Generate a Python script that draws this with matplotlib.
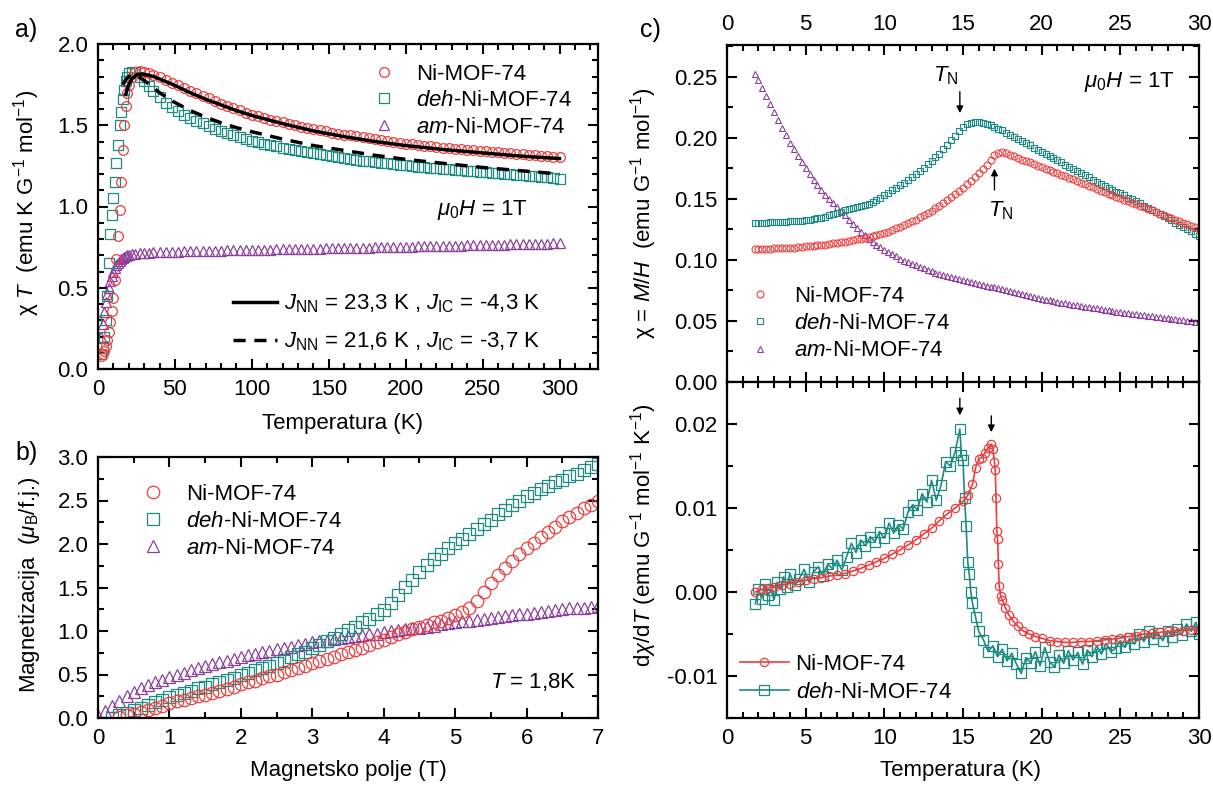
import numpy as np
import matplotlib
matplotlib.use('Agg')
import matplotlib.pyplot as plt
from matplotlib.ticker import MultipleLocator, FormatStrFormatter

plt.rcParams['font.family'] = ['Liberation Sans', 'DejaVu Sans']
plt.rcParams['mathtext.fontset'] = 'custom'
plt.rcParams['mathtext.rm'] = 'Liberation Sans'
plt.rcParams['mathtext.it'] = 'Liberation Sans:italic'
plt.rcParams['mathtext.bf'] = 'Liberation Sans:bold'
plt.rcParams['axes.unicode_minus'] = False

red = '#ef3d3d'
teal = '#1d8a83'
purple = '#8d3f9d'
fs = 16

lbl_ni = 'Ni-MOF-74'
lbl_deh = r'$deh$-Ni-MOF-74'
lbl_am = r'$am$-Ni-MOF-74'

# a) chi*T vs T
T_a = [2, 3, 4, 5, 6, 7, 8, 9, 10, 11,
       12, 13, 14, 15, 16, 17, 18, 19, 20, 22,
       24, 27, 30, 33, 36, 40, 44, 48, 52, 56,
       60, 64, 68, 72, 76, 80, 84, 88, 92, 96,
       100, 104, 108, 112, 116, 120, 124, 128, 132, 136,
       140, 144, 148, 152, 156, 160, 164, 168, 172, 176,
       180, 184, 188, 192, 196, 200, 204, 208, 212, 216,
       220, 224, 228, 232, 236, 240, 244, 248, 252, 256,
       260, 264, 268, 272, 276, 280, 284, 288, 292, 296,
       300]
chiT_ni = [0.08, 0.09, 0.11, 0.14, 0.18, 0.23, 0.29, 0.36, 0.44, 0.55,
           0.68, 0.82, 0.98, 1.15, 1.35, 1.50, 1.62, 1.70, 1.75, 1.80,
           1.83, 1.835, 1.83, 1.82, 1.81, 1.797, 1.78, 1.762, 1.748, 1.73,
           1.712, 1.697, 1.681, 1.665, 1.649, 1.633, 1.617, 1.605, 1.592, 1.578,
           1.565, 1.555, 1.545, 1.535, 1.525, 1.517, 1.508, 1.499, 1.490, 1.482,
           1.476, 1.469, 1.462, 1.455, 1.449, 1.443, 1.437, 1.431, 1.425, 1.419,
           1.413, 1.408, 1.402, 1.397, 1.391, 1.386, 1.382, 1.378, 1.374, 1.370,
           1.366, 1.362, 1.358, 1.354, 1.351, 1.348, 1.345, 1.342, 1.339, 1.336,
           1.333, 1.330, 1.327, 1.324, 1.321, 1.318, 1.315, 1.312, 1.309, 1.306,
           1.305]
chiT_deh = [0.09, 0.13, 0.20, 0.30, 0.45, 0.65, 0.83, 0.95, 1.05, 1.15,
            1.27, 1.38, 1.50, 1.58, 1.66, 1.72, 1.77, 1.80, 1.82, 1.83,
            1.825, 1.80, 1.77, 1.74, 1.71, 1.672, 1.64, 1.612, 1.587, 1.565,
            1.545, 1.528, 1.511, 1.494, 1.478, 1.464, 1.450, 1.437, 1.425, 1.414,
            1.405, 1.395, 1.386, 1.378, 1.370, 1.362, 1.355, 1.348, 1.341, 1.334,
            1.328, 1.322, 1.316, 1.310, 1.304, 1.298, 1.293, 1.288, 1.283, 1.278,
            1.274, 1.270, 1.265, 1.261, 1.257, 1.253, 1.249, 1.245, 1.242, 1.239,
            1.235, 1.232, 1.228, 1.225, 1.222, 1.219, 1.216, 1.213, 1.210, 1.207,
            1.204, 1.201, 1.198, 1.195, 1.192, 1.189, 1.186, 1.183, 1.180, 1.177,
            1.172]
chiT_am = [0.20, 0.28, 0.35, 0.41, 0.46, 0.50, 0.54, 0.57, 0.60, 0.62,
           0.64, 0.655, 0.665, 0.675, 0.685, 0.69, 0.695, 0.70, 0.70, 0.705,
           0.71, 0.711, 0.713, 0.715, 0.717, 0.719, 0.72, 0.721, 0.722, 0.724,
           0.725, 0.726, 0.726, 0.727, 0.728, 0.729, 0.73, 0.731, 0.731, 0.732,
           0.733, 0.734, 0.735, 0.735, 0.736, 0.737, 0.738, 0.738, 0.739, 0.740,
           0.741, 0.741, 0.742, 0.743, 0.744, 0.744, 0.745, 0.746, 0.747, 0.747,
           0.748, 0.749, 0.750, 0.751, 0.752, 0.752, 0.753, 0.754, 0.755, 0.756,
           0.757, 0.757, 0.758, 0.759, 0.760, 0.761, 0.762, 0.763, 0.764, 0.764,
           0.765, 0.766, 0.767, 0.768, 0.769, 0.770, 0.770, 0.771, 0.772, 0.773,
           0.774]
T_fit1 = [18, 20, 22, 25, 28, 32, 36, 40, 50, 60, 70, 80, 90, 100, 120,
          140, 160, 180, 200, 225, 250, 275, 300]
fit1 = [1.69, 1.75, 1.785, 1.81, 1.815, 1.81, 1.80, 1.785, 1.745, 1.70, 1.66,
        1.625, 1.59, 1.56, 1.51, 1.465, 1.43, 1.40, 1.375, 1.35, 1.33, 1.31, 1.295]
T_fit2 = [16, 18, 20, 23, 26, 30, 35, 40, 50, 60, 70, 80, 90, 100, 120,
          140, 160, 180, 200, 225, 250, 275, 300]
fit2 = [1.75, 1.78, 1.80, 1.81, 1.80, 1.775, 1.74, 1.70, 1.64, 1.59, 1.55,
        1.515, 1.485, 1.46, 1.415, 1.375, 1.345, 1.315, 1.29, 1.265, 1.24, 1.22, 1.20]

# b) magnetisation vs field at 1.8 K
H_b = [0.0, 0.1, 0.2, 0.3, 0.4, 0.5, 0.6, 0.7, 0.8, 0.9, 1.0,
       1.1, 1.2, 1.3, 1.4, 1.5, 1.6, 1.7, 1.8, 1.9, 2.0,
       2.1, 2.2, 2.3, 2.4, 2.5, 2.6, 2.7, 2.8, 2.9, 3.0,
       3.1, 3.2, 3.3, 3.4, 3.5, 3.6, 3.7, 3.8, 3.9, 4.0,
       4.1, 4.2, 4.3, 4.4, 4.5, 4.6, 4.7, 4.8, 4.9, 5.0,
       5.1, 5.2, 5.3, 5.4, 5.5, 5.6, 5.7, 5.8, 5.9, 6.0,
       6.1, 6.2, 6.3, 6.4, 6.5, 6.6, 6.7, 6.8, 6.9, 7.0]
M_ni = [np.nan, np.nan, np.nan, 0.01, 0.03, 0.05, 0.07, 0.09, 0.11, 0.14, 0.17,
        0.19, 0.21, 0.23, 0.25, 0.27, 0.29, 0.31, 0.33, 0.36, 0.39,
        0.41, 0.43, 0.46, 0.48, 0.50, 0.53, 0.55, 0.58, 0.60, 0.63,
        0.65, 0.68, 0.70, 0.73, 0.76, 0.78, 0.81, 0.84, 0.87, 0.90,
        0.93, 0.96, 0.99, 1.02, 1.05, 1.07, 1.10, 1.12, 1.15, 1.18,
        1.22, 1.27, 1.34, 1.45, 1.55, 1.64, 1.72, 1.80, 1.88, 1.95,
        2.01, 2.08, 2.14, 2.20, 2.26, 2.31, 2.36, 2.41, 2.45, 2.49]
M_deh = [np.nan, np.nan, 0.00, 0.03, 0.06, 0.09, 0.12, 0.15, 0.18, 0.21, 0.24,
         0.26, 0.29, 0.31, 0.34, 0.36, 0.39, 0.41, 0.44, 0.46, 0.49,
         0.52, 0.55, 0.57, 0.60, 0.63, 0.66, 0.70, 0.73, 0.76, 0.80,
         0.84, 0.88, 0.92, 0.96, 1.01, 1.05, 1.10, 1.14, 1.19, 1.24,
         1.32, 1.41, 1.51, 1.59, 1.68, 1.76, 1.83, 1.89, 1.95, 2.01,
         2.06, 2.12, 2.17, 2.23, 2.28, 2.34, 2.39, 2.45, 2.50, 2.55,
         2.59, 2.63, 2.67, 2.71, 2.74, 2.78, 2.81, 2.85, 2.88, 2.92]
M_am = [0.02, 0.08, 0.14, 0.20, 0.25, 0.30, 0.34, 0.38, 0.41, 0.44, 0.47,
        0.50, 0.52, 0.55, 0.57, 0.60, 0.62, 0.64, 0.66, 0.68, 0.70,
        0.72, 0.74, 0.76, 0.77, 0.79, 0.81, 0.82, 0.84, 0.85, 0.87,
        0.88, 0.89, 0.91, 0.92, 0.93, 0.94, 0.95, 0.96, 0.97, 0.99,
        1.00, 1.01, 1.02, 1.03, 1.04, 1.05, 1.06, 1.08, 1.09, 1.10,
        1.11, 1.12, 1.13, 1.14, 1.15, 1.16, 1.17, 1.18, 1.19, 1.20,
        1.21, 1.22, 1.23, 1.24, 1.25, 1.26, 1.27, 1.27, 1.28, 1.29]

# c) chi = M/H vs T
T_c = [1.8,
       2.0, 2.25, 2.5, 2.75, 3.0, 3.25, 3.5, 3.75,
       4.0, 4.25, 4.5, 4.75, 5.0, 5.25, 5.5, 5.75,
       6.0, 6.25, 6.5, 6.75, 7.0, 7.25, 7.5, 7.75,
       8.0, 8.25, 8.5, 8.75, 9.0, 9.25, 9.5, 9.75,
       10.0, 10.25, 10.5, 10.75, 11.0, 11.25, 11.5, 11.75,
       12.0, 12.25, 12.5, 12.75, 13.0, 13.25, 13.5, 13.75,
       14.0, 14.25, 14.5, 14.75, 15.0, 15.25, 15.5, 15.75,
       16.0, 16.25, 16.5, 16.75, 17.0, 17.25, 17.5, 17.75,
       18.0, 18.25, 18.5, 18.75, 19.0, 19.25, 19.5, 19.75,
       20.0, 20.25, 20.5, 20.75, 21.0, 21.25, 21.5, 21.75,
       22.0, 22.25, 22.5, 22.75, 23.0, 23.25, 23.5, 23.75,
       24.0, 24.25, 24.5, 24.75, 25.0, 25.25, 25.5, 25.75,
       26.0, 26.25, 26.5, 26.75, 27.0, 27.25, 27.5, 27.75,
       28.0, 28.25, 28.5, 28.75, 29.0, 29.25, 29.5, 29.75,
       30.0]
chi_ni = [.109,
          .109, .109, .109, .109, .1095, .1095, .110, .110,
          .110, .110, .1105, .1108, .111, .1112, .1115, .1118,
          .112, .1125, .113, .1135, .114, .1145, .115, .1155,
          .116, .1168, .1175, .1183, .119, .1198, .1205, .1213,
          .122, .1232, .1245, .1258, .127, .1285, .130, .1315,
          .133, .1348, .1365, .1383, .140, .1423, .1445, .1468,
          .149, .1515, .154, .1565, .159, .162, .165, .168,
          .171, .1745, .178, .182, .186, .1875, .188, .1875,
          .186, .185, .1835, .182, .181, .1798, .1785, .1773,
          .176, .1748, .1735, .1723, .171, .1698, .1685, .1673,
          .166, .1645, .163, .1618, .1605, .1593, .158, .1568,
          .1555, .1543, .153, .1518, .1505, .1493, .148, .1468,
          .1455, .1443, .143, .1418, .1405, .1393, .138, .1368,
          .1355, .1343, .133, .1318, .1305, .1293, .128, .1268,
          .1255]
chi_deh = [.1305,
           .1305, .1305, .1305, .1307, .131, .131, .131, .1312,
           .1315, .1318, .132, .1322, .1325, .133, .1335, .134,
           .1345, .1355, .1365, .1375, .1385, .1395, .1405, .1415,
           .1425, .1432, .144, .145, .146, .1475, .149, .151,
           .153, .155, .157, .159, .161, .1632, .1655, .1678,
           .170, .1728, .1755, .1783, .181, .184, .187, .1905,
           .194, .1978, .2015, .2053, .209, .211, .2125, .213,
           .213, .2125, .2115, .2105, .209, .2075, .206, .2043,
           .2025, .2008, .199, .1973, .1955, .1938, .192, .1903,
           .1885, .1868, .185, .1833, .1815, .1798, .178, .1763,
           .1745, .1728, .171, .1693, .1675, .1658, .164, .1623,
           .1605, .159, .1575, .156, .1545, .1528, .151, .1495,
           .148, .1463, .1445, .1428, .141, .1393, .1375, .1358,
           .134, .1323, .1305, .1288, .127, .1253, .1235, .1215,
           .1195]
chi_am = [.252,
          .247, .2405, .234, .2275, .221, .2145, .208, .202,
          .196, .1905, .185, .180, .175, .170, .1655, .161,
          .157, .1535, .150, .1468, .1435, .140, .1365, .133,
          .1295, .1262, .123, .1202, .1175, .115, .1125, .1102,
          .108, .1062, .1045, .1028, .101, .0995, .098, .0968,
          .0955, .0942, .093, .0918, .0905, .0895, .0885, .0875,
          .0865, .0858, .085, .0842, .0835, .0828, .082, .0812,
          .0805, .0798, .079, .0782, .0775, .0768, .076, .0752,
          .0745, .0738, .073, .0722, .0715, .0705, .0695, .0688,
          .068, .0674, .0668, .0662, .0656, .065, .0645, .064,
          .0634, .0628, .0623, .0618, .0612, .0607, .0602, .0597,
          .0592, .0587, .0582, .0577, .0573, .0568, .0564, .056,
          .0555, .055, .0546, .0542, .0538, .0534, .053, .0526,
          .0522, .0518, .0514, .051, .0506, .0502, .0498, .0494,
          .049]

# d) dchi/dT vs T, (T, value) pairs
dchi_ni = [(1.8, 0.0), (2.2, 0.0003), (2.6, 0.0005), (3.0, 0.0006), (3.5, 0.0008),
           (4.0, 0.001), (4.5, 0.0012), (5.0, 0.0014), (5.5, 0.0016), (6.0, 0.0017),
           (6.5, 0.0019), (7.0, 0.002), (7.5, 0.0022), (8.0, 0.0025), (8.5, 0.0028),
           (9.0, 0.0032), (9.5, 0.0036), (10.0, 0.004), (10.5, 0.0045), (11.0, 0.005),
           (11.5, 0.0056), (12.0, 0.0062), (12.5, 0.0069), (13.0, 0.0076), (13.5, 0.0085),
           (14.0, 0.0093), (14.5, 0.0100), (15.0, 0.0108), (15.3, 0.0115), (15.6, 0.0128),
           (15.8, 0.0148), (16.0, 0.0158), (16.2, 0.0160), (16.4, 0.0166), (16.6, 0.0172),
           (16.8, 0.0176), (16.9, 0.0170), (17.0, 0.0155), (17.05, 0.0145), (17.1, 0.0112),
           (17.15, 0.0073), (17.2, 0.0063), (17.25, 0.0033), (17.3, 0.0007), (17.4, -0.0005),
           (17.5, -0.0010), (17.7, -0.0019), (17.9, -0.0027), (18.2, -0.0035), (18.5, -0.0041),
           (18.8, -0.0046), (19.2, -0.0050), (19.6, -0.0053), (20.0, -0.0055), (20.5, -0.0058),
           (21.0, -0.0059), (21.5, -0.0060), (22.0, -0.0060), (22.5, -0.0059), (23.0, -0.0059),
           (23.5, -0.0058), (24.0, -0.0057), (24.5, -0.0056), (25.0, -0.0055), (25.5, -0.0053),
           (26.0, -0.0052), (26.5, -0.0050), (27.0, -0.0049), (27.5, -0.0048), (28.0, -0.0047),
           (28.5, -0.0046), (29.0, -0.0046), (29.5, -0.0045), (30.0, -0.0045)]
dchi_deh = [(1.8, -0.0014), (2.0, 0.0004), (2.2, -0.0008), (2.4, 0.0009), (2.6, -0.0004),
            (2.8, 0.0002), (3.0, -0.0009), (3.2, 0.0012), (3.4, 0.0003), (3.6, 0.0018),
            (3.8, 0.0006), (4.0, 0.0022), (4.3, 0.0008), (4.6, 0.0016), (4.9, 0.0027),
            (5.2, 0.0012), (5.5, 0.0024), (5.8, 0.0030), (6.1, 0.0019), (6.4, 0.0033),
            (6.7, 0.0028), (7.0, 0.0038), (7.3, 0.0026), (7.6, 0.0042), (7.9, 0.0058),
            (8.2, 0.0047), (8.5, 0.0062), (8.8, 0.0055), (9.1, 0.0066), (9.4, 0.0060),
            (9.7, 0.0072), (10.0, 0.0064), (10.3, 0.0082), (10.6, 0.0070), (10.9, 0.0080),
            (11.2, 0.0075), (11.5, 0.0095), (11.8, 0.0104), (12.1, 0.0098), (12.4, 0.0117),
            (12.7, 0.0107), (13.0, 0.0133), (13.3, 0.0109), (13.6, 0.0127), (13.9, 0.0155),
            (14.2, 0.0150), (14.5, 0.0167), (14.8, 0.0194), (14.9, 0.0163), (15.0, 0.0157),
            (15.1, 0.0112), (15.2, 0.0078), (15.3, 0.0036), (15.4, 0.0021), (15.5, 0.0000),
            (15.6, -0.0013), (15.8, -0.0030), (16.0, -0.0047), (16.3, -0.0057), (16.6, -0.0071),
            (16.9, -0.0064), (17.2, -0.0077), (17.5, -0.0068), (17.8, -0.0082), (18.1, -0.0073),
            (18.4, -0.0086), (18.7, -0.0097), (19.0, -0.0078), (19.3, -0.0084), (19.6, -0.0071),
            (19.9, -0.0088), (20.2, -0.0066), (20.5, -0.0083), (20.8, -0.0089), (21.1, -0.0075),
            (21.4, -0.0085), (21.7, -0.0070), (22.0, -0.0081), (22.3, -0.0072), (22.6, -0.0086),
            (22.9, -0.0069), (23.2, -0.0077), (23.5, -0.0064), (23.8, -0.0074), (24.1, -0.0061),
            (24.4, -0.0071), (24.7, -0.0067), (25.0, -0.0058), (25.3, -0.0066), (25.6, -0.0055),
            (25.9, -0.0062), (26.2, -0.0050), (26.5, -0.0059), (26.8, -0.0047), (27.1, -0.0056),
            (27.4, -0.0049), (27.7, -0.0058), (28.0, -0.0046), (28.3, -0.0053), (28.6, -0.0044),
            (28.9, -0.0051), (29.2, -0.0038), (29.5, -0.0047), (29.8, -0.0036), (30.0, -0.0050)]

W, H = 1213, 787
fig = plt.figure(figsize=(W / 100, H / 100), dpi=100)


def px_axes(x0, y0, x1, y1):
    return fig.add_axes([x0 / W, 1 - y1 / H, (x1 - x0) / W, (y1 - y0) / H])


def style(ax, xmaj, xmin, ymaj, ymin):
    ax.xaxis.set_major_locator(MultipleLocator(xmaj))
    ax.xaxis.set_minor_locator(MultipleLocator(xmin))
    ax.yaxis.set_major_locator(MultipleLocator(ymaj))
    ax.yaxis.set_minor_locator(MultipleLocator(ymin))
    ax.tick_params(which='both', direction='in', top=True, right=True,
                   width=1.5, labelsize=fs, pad=7)
    ax.tick_params(which='major', length=7)
    ax.tick_params(which='minor', length=4)
    for s in ax.spines.values():
        s.set_linewidth(1.6)


open_mk = dict(linestyle='none', mfc='none')
arrow = dict(arrowstyle='-|>', color='k', lw=1, mutation_scale=10)

# ---------- a ----------
ax_a = px_axes(98, 44, 598, 369)
ax_a.plot(T_a, chiT_am, marker='^', color=purple, ms=7, mew=0.9, label=lbl_am, **open_mk)
ax_a.plot(T_a, chiT_deh, marker='s', color=teal, ms=7, mew=0.9, label=lbl_deh, **open_mk)
ax_a.plot(T_a, chiT_ni, marker='o', color=red, ms=7, mew=0.9, label=lbl_ni, **open_mk)
l1, = ax_a.plot(T_fit1, fit1, color='k', lw=2.5)
l2, = ax_a.plot(T_fit2, fit2, color='k', lw=2.5, linestyle=(0, (3.5, 2.5)))
ax_a.set_xlim(0, 325)
ax_a.set_ylim(0, 2.0)
style(ax_a, 50, 10, 0.5, 0.1)
ax_a.yaxis.set_major_formatter(FormatStrFormatter('%.1f'))
h, l = ax_a.get_legend_handles_labels()
leg = ax_a.legend(h[::-1], l[::-1], loc='upper left', bbox_to_anchor=(0.55, 0.94),
                  frameon=False, fontsize=fs, handlelength=1.0, handletextpad=0.95,
                  labelspacing=0.25, borderpad=0, borderaxespad=0)
ax_a.add_artist(leg)
ax_a.legend([l1, l2], [r'$J_{\mathrm{NN}}$ = 23,3 K , $J_{\mathrm{IC}}$ = -4,3 K',
                       r'$J_{\mathrm{NN}}$ = 21,6 K , $J_{\mathrm{IC}}$ = -3,7 K'],
            loc='upper left', bbox_to_anchor=(0.27, 0.235), frameon=False,
            fontsize=fs, handlelength=2.0, handletextpad=0.3, labelspacing=0.7,
            borderpad=0, borderaxespad=0)
ax_a.text(0.678, 0.489, r'$\mu_0H$ = 1T', transform=ax_a.transAxes, fontsize=fs,
          va='center', ha='left')
ax_a.set_xlabel('Temperatura (K)', fontsize=fs)
ax_a.set_ylabel(r'χ $T$  (emu K G$^{-1}$ mol$^{-1}$)', fontsize=fs)
ax_a.xaxis.set_label_coords(0.488, -0.135)
ax_a.yaxis.set_label_coords(-0.112, 0.51)

# ---------- b ----------
ax_b = px_axes(98, 457, 598, 718)
ax_b.plot(H_b, M_am, marker='^', color=purple, ms=9, mew=0.9, label=lbl_am, **open_mk)
ax_b.plot(H_b, M_deh, marker='s', color=teal, ms=8.5, mew=0.9, label=lbl_deh, **open_mk)
ax_b.plot(H_b, M_ni, marker='o', color=red, ms=9, mew=0.9, label=lbl_ni, **open_mk)
ax_b.set_xlim(0, 7)
ax_b.set_ylim(0, 3.0)
style(ax_b, 1, 0.5, 0.5, 0.25)
ax_b.yaxis.set_major_formatter(FormatStrFormatter('%.1f'))
h, l = ax_b.get_legend_handles_labels()
ax_b.legend(h[::-1], l[::-1], loc='upper left', bbox_to_anchor=(0.088, 0.898),
            frameon=False, fontsize=fs, handlelength=1.0, handletextpad=1.0,
            labelspacing=0.28, borderpad=0, borderaxespad=0)
ax_b.text(0.784, 0.138, r'$T$ = 1,8K', transform=ax_b.transAxes, fontsize=fs,
          va='center', ha='left')
ax_b.set_xlabel('Magnetsko polje (T)', fontsize=fs)
ax_b.set_ylabel(r'Magnetizacija  ($\mu_{\mathrm{B}}$/f.j.)', fontsize=fs)
ax_b.xaxis.set_label_coords(0.5, -0.16)
ax_b.yaxis.set_label_coords(-0.112, 0.51)

# ---------- c ----------
ax_c = px_axes(727, 45, 1199, 382)
ax_c.plot(T_c, chi_am, marker='^', color=purple, ms=5, mew=0.8, label=lbl_am, **open_mk)
ax_c.plot(T_c, chi_deh, marker='s', color=teal, ms=5, mew=0.8, label=lbl_deh, **open_mk)
ax_c.plot(T_c, chi_ni, marker='o', color=red, ms=5, mew=0.8, label=lbl_ni, **open_mk)
ax_c.set_xlim(0, 30)
ax_c.set_ylim(0, 0.276)
style(ax_c, 5, 1, 0.05, 0.025)
ax_c.tick_params(labelbottom=False, labeltop=True)
ax_c.yaxis.set_major_formatter(FormatStrFormatter('%.2f'))
h, l = ax_c.get_legend_handles_labels()
ax_c.legend(h[::-1], l[::-1], loc='upper left', bbox_to_anchor=(0.047, 0.285),
            frameon=False, fontsize=fs, handlelength=1.0, handletextpad=1.0,
            labelspacing=0.28, borderpad=0, borderaxespad=0)
ax_c.text(0.756, 0.89, r'$\mu_0H$ = 1T', transform=ax_c.transAxes, fontsize=fs,
          va='center', ha='left')
ax_c.annotate('', xy=(14.8, 0.218), xytext=(14.8, 0.240), arrowprops=arrow)
ax_c.text(13.9, 0.251, r'$T_{\mathrm{N}}$', fontsize=fs, ha='center', va='center')
ax_c.annotate('', xy=(17.0, 0.177), xytext=(17.0, 0.155), arrowprops=arrow)
ax_c.text(17.4, 0.140, r'$T_{\mathrm{N}}$', fontsize=fs, ha='center', va='center')
ax_c.set_ylabel(r'χ = $M/H$  (emu G$^{-1}$ mol$^{-1}$)', fontsize=fs)
ax_c.yaxis.set_label_coords(-0.145, 0.5)

# ---------- d ----------
ax_d = px_axes(727, 382, 1199, 718)
td_ni, vd_ni = np.array(dchi_ni).T
td_deh, vd_deh = np.array(dchi_deh).T
ax_d.plot(td_deh, vd_deh, marker='s', color=teal, ms=6.5, mew=0.9, mfc='none', lw=1.2,
          label=lbl_deh)
ax_d.plot(td_ni, vd_ni, marker='o', color=red, ms=6, mew=0.9, mfc='none', lw=1.2,
          label=lbl_ni)
ax_d.set_xlim(0, 30)
ax_d.set_ylim(-0.015, 0.025)
style(ax_d, 5, 1, 0.01, 0.005)
ax_d.yaxis.set_major_formatter(FormatStrFormatter('%.2f'))
h, l = ax_d.get_legend_handles_labels()
ax_d.legend(h[::-1], l[::-1], loc='upper left', bbox_to_anchor=(0.0275, 0.19),
            frameon=False, fontsize=fs, handlelength=2.2, handletextpad=0.3,
            labelspacing=0.3, borderpad=0, borderaxespad=0)
ax_d.annotate('', xy=(14.8, 0.0207), xytext=(14.8, 0.0234), arrowprops=arrow)
ax_d.annotate('', xy=(16.8, 0.0187), xytext=(16.8, 0.0213), arrowprops=arrow)
ax_d.set_xlabel('Temperatura (K)', fontsize=fs)
ax_d.set_ylabel(r'd$\chi$/d$T$ (emu G$^{-1}$ mol$^{-1}$ K$^{-1}$)', fontsize=fs)
ax_d.xaxis.set_label_coords(0.494, -0.125)
ax_d.yaxis.set_label_coords(-0.145, 0.545)

fig.text(15 / W, 1 - 30 / H, 'a)', fontsize=18, va='center', ha='left')
fig.text(15 / W, 1 - 453 / H, 'b)', fontsize=18, va='center', ha='left')
fig.text(640 / W, 1 - 30 / H, 'c)', fontsize=18, va='center', ha='left')

fig.savefig('out.png', dpi=100)
